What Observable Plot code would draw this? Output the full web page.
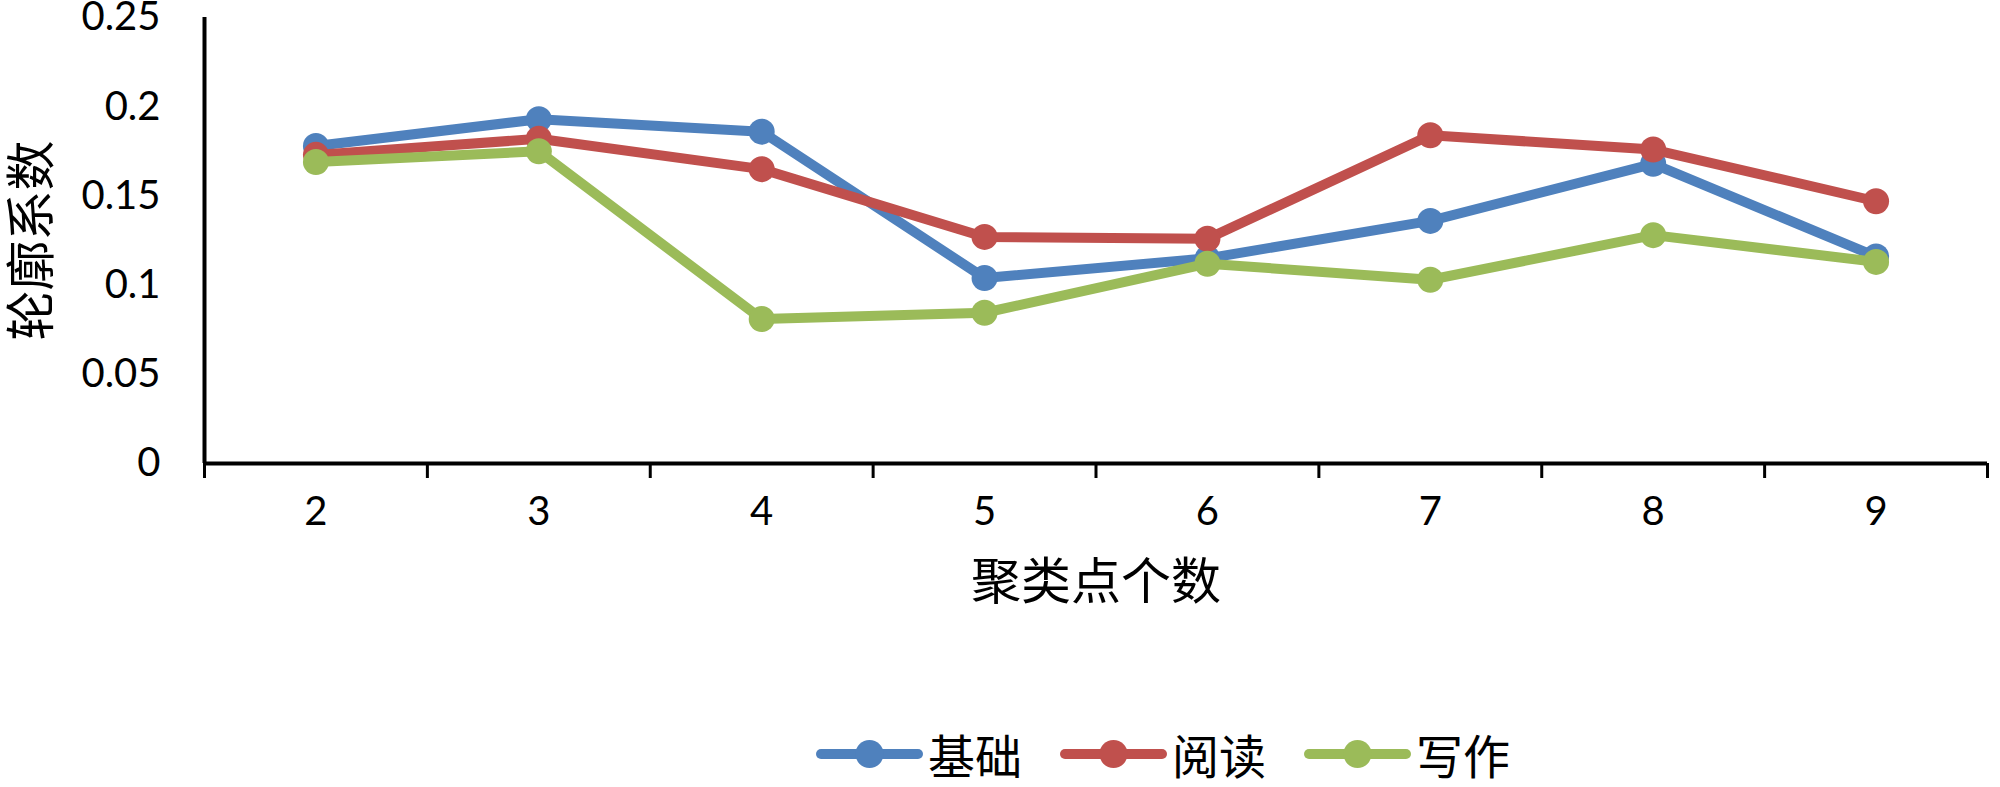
<!DOCTYPE html>
<html>
<head>
<meta charset="utf-8">
<script src="https://cdn.jsdelivr.net/npm/d3@7"></script>
<script src="https://cdn.jsdelivr.net/npm/@observablehq/plot@0.6"></script>
<style>
  html, body { margin: 0; padding: 0; background: #fff; }
  #chart svg { display: block; }
  #legend { display: flex; align-items: center; height: 67px; padding-left: 816px; box-sizing: border-box;
            font-family: "Noto Sans CJK SC", sans-serif; font-size: 47px; color: #000; }
  .item { display: flex; align-items: center; margin-right: 38px; }
  .item span { margin-left: 5px; line-height: 1; }
</style>
</head>
<body>
<div id="chart"></div>
<div id="legend"></div>
<script>
// ---- data ----
const categories = [2, 3, 4, 5, 6, 7, 8, 9];
const seriesNames = ["基础", "阅读", "写作"];
const seriesColors = ["#4F81BD", "#C0504D", "#9BBB59"];
const jichu  = [0.178, 0.193, 0.186, 0.104, 0.115, 0.136, 0.168, 0.116];
const yuedu  = [0.173, 0.182, 0.165, 0.127, 0.126, 0.184, 0.176, 0.147];
const xiezuo = [0.169, 0.175, 0.081, 0.0845, 0.112, 0.103, 0.128, 0.113];
const yTicks = [0, 0.05, 0.1, 0.15, 0.2, 0.25];
const yTickLabels = ["0", "0.05", "0.1", "0.15", "0.2", "0.25"];
const xTitle = "聚类点个数";
const yTitle = "轮廓系数";

const seriesValues = [jichu, yuedu, xiezuo];
const rows = [];
seriesNames.forEach((s, si) => categories.forEach((c, i) => rows.push({series: s, k: c, v: seriesValues[si][i]})));
const bounds = [...categories.map(c => c - 0.5), categories[categories.length - 1] + 0.5];

const cjk = "'Noto Sans CJK SC', sans-serif";
const num = "Lato, 'Open Sans', sans-serif";

const marks = [
  Plot.ruleY([0], {stroke: "#000", strokeWidth: 4}),
  Plot.ruleX([bounds[0]], {stroke: "#000", strokeWidth: 4}),
  Plot.ruleX(bounds, {x: d => d, y1: 0, y2: 0, insetBottom: -15, stroke: "#000", strokeWidth: 3}),
  Plot.text(categories, {x: d => d, frameAnchor: "bottom", dy: 61, text: d => String(d),
    fontSize: 40, fontFamily: num, fill: "#000"}),
  Plot.text(yTicks, {y: d => d, frameAnchor: "left", dx: -44, textAnchor: "end",
    text: (d, i) => yTickLabels[i], fontSize: 40, fontFamily: num, fill: "#000"}),
  Plot.text([xTitle], {frameAnchor: "bottom", dy: 135, text: d => d, fontSize: 50, fontFamily: cjk, fill: "#000"}),
  Plot.text([yTitle], {frameAnchor: "left", dx: -172, rotate: -90, textAnchor: "middle",
    text: d => d, fontSize: 50, fontFamily: cjk, fill: "#000"})
];
seriesNames.forEach(s => {
  const d = rows.filter(r => r.series === s);
  marks.push(Plot.line(d, {x: "k", y: "v", stroke: "series", strokeWidth: 10, strokeLinejoin: "round"}));
  marks.push(Plot.dot(d, {x: "k", y: "v", fill: "series", r: 13}));
});

const chart = Plot.plot({
  width: 2000,
  height: 720,
  marginLeft: 204,
  marginRight: 13,
  marginTop: 17,
  marginBottom: 257,
  x: {domain: [bounds[0], bounds[bounds.length - 1]], axis: null},
  y: {domain: [0, 0.25], axis: null},
  color: {domain: seriesNames, range: seriesColors},
  style: {background: "#fff", overflow: "visible"},
  marks
});
document.getElementById("chart").appendChild(chart);

// ---- legend ----
const legend = d3.select("#legend");
seriesNames.forEach((s, i) => {
  const item = legend.append("div").attr("class", "item");
  const sv = item.append("svg").attr("width", 107).attr("height", 32);
  sv.append("line").attr("x1", 5).attr("x2", 102).attr("y1", 16).attr("y2", 16)
    .attr("stroke", seriesColors[i]).attr("stroke-width", 10).attr("stroke-linecap", "round");
  sv.append("circle").attr("cx", 53.5).attr("cy", 16).attr("r", 14).attr("fill", seriesColors[i]);
  item.append("span").text(s);
});
</script>
</body>
</html>
